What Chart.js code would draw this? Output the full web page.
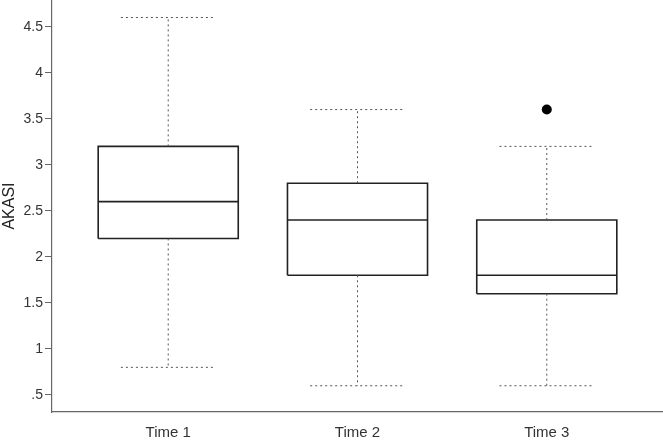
<!DOCTYPE html>
<html>
<head>
<meta charset="utf-8">
<script src="https://cdn.jsdelivr.net/npm/chart.js@4/dist/chart.umd.min.js"></script>
<style>
  html, body { margin: 0; padding: 0; background: #fff; }
  #wrap { width: 663px; height: 442px; }
</style>
</head>
<body>
<div id="wrap"><canvas id="box_chart" width="663" height="442"></canvas></div>
<script>
// values
var categories = ['Time 1', 'Time 2', 'Time 3'];
var whiskerLow = [0.8, 0.6, 0.6];
var q1 = [2.2, 1.8, 1.6];
var median = [2.6, 2.4, 1.8];
var q3 = [3.2, 2.8, 2.4];
var whiskerHigh = [4.6, 3.6, 3.2];
var outliers = [[], [], [3.6]];
var yTicks = [0.5, 1, 1.5, 2, 2.5, 3, 3.5, 4, 4.5];

var BOX_HALF = 0.37, CAP_HALF = 0.25;
var dashed = { borderColor: '#555', borderWidth: 1, borderDash: [2, 3] };
var solid = { borderColor: '#222', borderWidth: 1.6 };
var FONT = 'Arial, "Liberation Sans", sans-serif';

function lineSet(points, style) {
    return Object.assign({ data: points, showLine: true, pointRadius: 0, fill: false }, style);
}

var datasets = [];
categories.forEach(function (c, i) {
    var x = i + 1;
    // whiskers + caps
    datasets.push(lineSet([{x: x, y: q3[i]}, {x: x, y: whiskerHigh[i]}], dashed));
    datasets.push(lineSet([{x: x, y: q1[i]}, {x: x, y: whiskerLow[i]}], dashed));
    datasets.push(lineSet([{x: x - CAP_HALF, y: whiskerHigh[i]}, {x: x + CAP_HALF, y: whiskerHigh[i]}], dashed));
    datasets.push(lineSet([{x: x - CAP_HALF, y: whiskerLow[i]}, {x: x + CAP_HALF, y: whiskerLow[i]}], dashed));
    // box
    datasets.push(lineSet([
        {x: x - BOX_HALF, y: q1[i]}, {x: x + BOX_HALF, y: q1[i]},
        {x: x + BOX_HALF, y: q3[i]}, {x: x - BOX_HALF, y: q3[i]},
        {x: x - BOX_HALF, y: q1[i]}
    ], solid));
    // median
    datasets.push(lineSet([{x: x - BOX_HALF, y: median[i]}, {x: x + BOX_HALF, y: median[i]}], solid));
    // outliers
    if (outliers[i].length) {
        datasets.push({
            data: outliers[i].map(function (v) { return {x: x, y: v}; }),
            showLine: false, pointRadius: 5, pointBackgroundColor: '#000', pointBorderWidth: 0
        });
    }
});

var chx = document.getElementById('box_chart');
var bChart = new Chart(chx, {
    type: 'scatter',
    data: { datasets: datasets },
    options: {
        responsive: false,
        animation: false,
        layout: { padding: 0, autoPadding: false },
        plugins: { legend: { display: false }, tooltip: { enabled: false } },
        scales: {
            x: {
                type: 'linear',
                min: 0.386, max: 3.614,
                afterBuildTicks: function (s) { s.ticks = categories.map(function (c, i) { return {value: i + 1}; }); },
                afterFit: function (s) { s.height = 30; s.paddingLeft = 0; s.paddingRight = 0; },
                ticks: {
                    color: '#333',
                    font: { family: FONT, size: 15 },
                    padding: 12,
                    callback: function (v) { return categories[v - 1]; }
                },
                grid: { drawOnChartArea: false, drawTicks: false },
                border: { color: '#666', width: 1.2 }
            },
            y: {
                min: 0.315, max: 4.79,
                afterBuildTicks: function (s) { s.ticks = yTicks.map(function (v) { return {value: v}; }); },
                afterFit: function (s) { s.width = 52; s.paddingTop = 0; s.paddingBottom = 0; },
                ticks: {
                    color: '#333',
                    font: { family: FONT, size: 14 },
                    padding: 2,
                    callback: function (v) { return v === 0.5 ? '.5' : String(v); }
                },
                title: {
                    display: true, text: 'AKASI', color: '#222',
                    font: { family: FONT, size: 16 },
                    padding: 0
                },
                grid: { drawOnChartArea: false, drawTicks: true, tickLength: 7, color: '#666' },
                border: { color: '#666', width: 1.2 }
            }
        }
    }
});
</script>
</body>
</html>
